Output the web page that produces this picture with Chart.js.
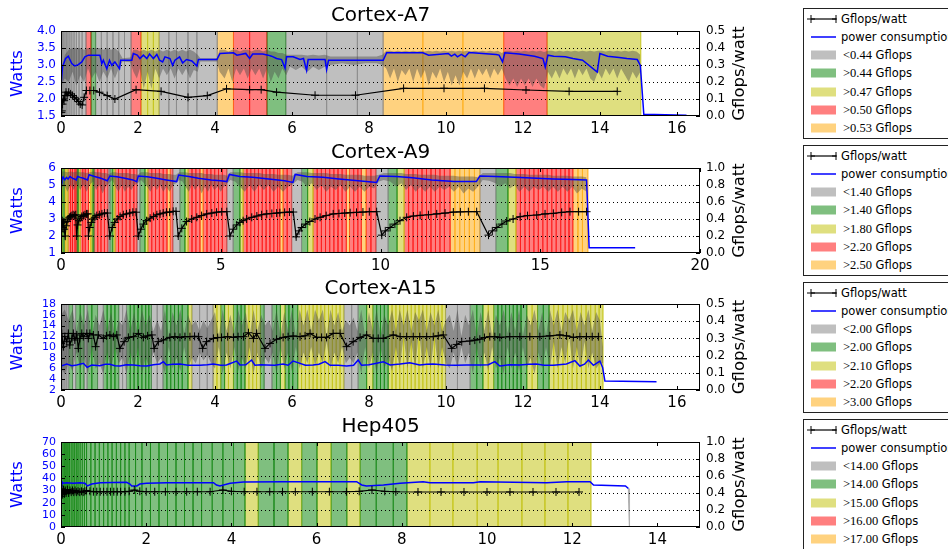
<!DOCTYPE html>
<html><head><meta charset="utf-8">
<script src="https://cdn.jsdelivr.net/npm/chart.js@4.4.0/dist/chart.umd.min.js"></script>
<style>
html,body{margin:0;padding:0;width:948px;height:549px;overflow:hidden;background:#fff;font-family:"DejaVu Sans",sans-serif;position:relative;}
canvas{position:absolute;left:0;}
.leg{position:absolute;left:803px;width:170px;height:131px;border:1px solid #222;background:#fff;box-sizing:border-box;}
.row{position:absolute;left:0;height:18px;white-space:nowrap;font-size:11.5px;line-height:18px;color:#000;}
.row svg{position:absolute;left:3px;top:0;}
.row span.t{position:absolute;left:37px;top:0;}
.m{font-family:"Liberation Serif","DejaVu Serif",serif;font-size:12.5px;}
</style>
</head><body>
<script>
// ---------------- DATA ----------------
const catColors = ['rgba(128,128,128,0.5)','rgba(0,128,0,0.5)','rgba(191,191,0,0.5)','rgba(255,0,0,0.5)','rgba(255,165,0,0.5)'];

// Cortex-A7
const a7Title = 'Cortex-A7';
const a7Thresholds = ['<0.44','>0.44','>0.47','>0.50','>0.53'];
const a7Bands = [[0,0],[0.03,0],[0.06,0],[0.1,0],[0.14,0],[0.18,0],[0.23,0],[0.28,0],[0.34,0],[0.4,0],[0.47,0],[0.55,0],
 [0.65,3],[0.78,1],[0.9,0],[1.05,0],[1.2,0],[1.35,0],[1.5,0],[1.65,0],[1.82,3],[2.08,2],[2.25,2],[2.4,2],
 [2.55,0],[2.8,0],[3.0,0],[3.3,0],[3.53,0],[4.06,4],[4.48,3],[4.9,3],[5.35,1],[5.84,0],[6.9,0],[7.7,0],
 [8.37,4],[9.4,4],[10.44,4],[11.5,3],[12.63,2]];
const a7BandsEnd = 15.06;
const a7Power = [[0,2.4],[0.04,2.95],[0.12,3.19],[0.19,3.26],[0.28,3.04],[0.36,2.97],[0.45,3.01],[0.54,3.09],[0.62,3.24],[0.71,3.29],
 [1.01,3.29],[1.06,3.04],[1.1,3.14],[1.19,2.89],[1.26,3.14],[1.32,2.99],[1.4,3.09],[1.52,2.89],[1.55,3.14],[1.84,3.14],[1.88,3.34],
 [1.98,3.29],[2.05,3.19],[2.14,3.29],[2.23,3.19],[2.3,3.32],[2.4,3.19],[2.49,3.31],[2.56,3.14],[2.64,3.09],[2.7,3.24],[2.83,3.19],
 [2.9,2.99],[2.96,3.14],[3.08,3.24],[3.16,3.06],[3.26,3.16],[3.4,3.12],[3.53,2.97],[3.57,3.16],[4.05,3.16],[4.13,3.34],[4.48,3.36],
 [4.57,3.29],[4.8,3.34],[4.9,3.19],[4.98,3.32],[5.24,3.32],[5.38,3.29],[5.47,3.26],[5.6,3.19],[5.73,3.16],[5.82,2.91],[5.86,3.24],
 [6.03,3.24],[6.21,3.16],[6.3,3.19],[6.38,2.84],[6.42,3.16],[6.86,3.16],[6.9,2.86],[6.95,3.14],[8.37,3.14],[8.46,3.36],[9.4,3.36],
 [9.55,3.29],[10.06,3.34],[10.14,3.26],[10.23,3.32],[10.3,3.24],[10.4,3.31],[10.5,3.24],[10.6,3.37],[10.95,3.34],[11.3,3.31],
 [11.38,3.29],[11.47,3.09],[11.53,3.36],[11.9,3.32],[12.3,3.26],[12.52,3.19],[12.58,2.94],[12.65,3.29],[12.8,3.26],[13.1,3.24],
 [13.3,3.19],[13.55,3.14],[13.93,2.79],[14.0,3.34],[14.2,3.26],[14.5,3.22],[14.7,3.19],[14.97,3.16],[15.05,2.99],[15.14,1.55],[16.25,1.52]];
const a7Env = [[0,2.4,2.3],[0.04,3.0,2.5],[0.1,3.3,2.6],[0.2,3.45,2.5],[0.3,3.5,2.8],[0.4,3.5,2.4],[0.5,3.5,2.7],[0.6,3.45,2.5],[0.7,3.5,2.9],
 [0.8,3.5,2.6],[0.9,3.5,2.8],[1.0,3.5,2.5],[1.1,3.45,2.8],[1.2,3.5,2.6],[1.3,3.45,2.9],[1.4,3.5,2.6],[1.5,3.4,2.9],[1.6,3.2,3.1],[1.8,3.22,3.08],
 [1.88,3.45,2.8],[1.97,3.45,2.6],[2.05,3.4,2.9],[2.15,3.45,2.3],[2.25,3.4,2.8],[2.35,3.45,2.3],[2.45,3.4,2.9],[2.55,3.45,2.6],[2.65,3.4,2.9],
 [2.75,3.45,2.7],[2.85,3.4,2.9],[2.95,3.45,2.6],[3.05,3.4,2.9],[3.15,3.45,2.7],[3.25,3.4,2.9],[3.35,3.45,2.6],[3.45,3.4,2.85],[3.55,3.3,2.8],
 [3.62,3.2,3.1],[4.05,3.2,3.1],[4.12,3.45,2.8],[4.25,3.45,2.6],[4.35,3.4,2.9],[4.45,3.45,2.5],[4.55,3.45,2.9],[4.65,3.4,2.7],[4.75,3.45,2.9],
 [4.85,3.45,2.6],[4.95,3.4,2.9],[5.05,3.45,2.7],[5.15,3.45,2.9],[5.25,3.4,2.6],[5.35,3.45,2.9],[5.45,3.4,2.5],[5.55,3.4,2.8],[5.65,3.35,2.6],
 [5.75,3.35,2.9],[5.85,3.3,2.7],[5.95,3.3,2.95],[6.1,3.3,2.85],[6.25,3.3,2.95],[6.4,3.28,2.8],[6.55,3.3,2.95],[6.7,3.28,2.85],[6.85,3.3,2.95],
 [7.0,3.25,3.0],[7.3,3.25,3.05],[7.6,3.25,3.0],[7.9,3.25,3.05],[8.2,3.25,3.05],[8.35,3.3,3.0],[8.45,3.42,2.9],[8.55,3.42,2.6],[8.65,3.4,2.9],
 [8.75,3.42,2.5],[8.85,3.4,2.85],[8.95,3.42,2.7],[9.05,3.4,2.9],[9.15,3.42,2.5],[9.25,3.4,2.9],[9.35,3.42,2.6],[9.45,3.4,2.85],[9.55,3.42,2.4],
 [9.65,3.4,2.8],[9.75,3.42,2.6],[9.85,3.4,2.9],[9.95,3.42,2.5],[10.05,3.4,2.8],[10.15,3.42,2.4],[10.25,3.4,2.7],[10.35,3.42,2.4],[10.45,3.4,2.8],
 [10.55,3.42,2.6],[10.65,3.4,2.9],[10.75,3.42,2.6],[10.85,3.4,2.9],[10.95,3.42,2.7],[11.05,3.4,2.9],[11.15,3.42,2.6],[11.25,3.4,2.9],
 [11.35,3.42,2.7],[11.45,3.35,2.9],[11.55,3.42,2.6],[11.65,3.42,2.4],[11.75,3.4,2.6],[11.85,3.42,2.35],[11.95,3.4,2.6],[12.05,3.42,2.4],
 [12.15,3.4,2.6],[12.25,3.42,2.35],[12.35,3.4,2.6],[12.45,3.42,2.4],[12.55,3.38,2.3],[12.65,3.42,2.8],[12.75,3.42,2.6],[12.85,3.4,2.85],
 [12.95,3.42,2.6],[13.05,3.4,2.9],[13.15,3.42,2.7],[13.25,3.4,2.9],[13.35,3.42,2.6],[13.45,3.4,2.9],[13.55,3.42,2.7],[13.65,3.4,2.9],
 [13.75,3.42,2.6],[13.85,3.4,2.5],[13.95,3.42,2.8],[14.05,3.42,2.6],[14.15,3.4,2.9],[14.25,3.42,2.7],[14.35,3.4,2.9],[14.45,3.42,2.6],
 [14.55,3.4,2.9],[14.65,3.42,2.7],[14.75,3.4,2.5],[14.85,3.42,2.8],[14.95,3.4,2.6],[15.05,3.3,2.8]];
const a7Eff = [[0.01,0.02],[0.02,0.03],[0.04,0.07],[0.06,0.1],[0.08,0.09],[0.1,0.12],[0.13,0.14],[0.16,0.12],[0.2,0.14],[0.25,0.13],[0.3,0.12],
 [0.35,0.11],[0.4,0.1],[0.45,0.085],[0.5,0.07],[0.55,0.065],[0.6,0.11],[0.66,0.15],[0.75,0.15],[0.85,0.15],[1.0,0.14],[1.2,0.12],[1.4,0.1],
 [1.95,0.155],[2.6,0.145],[3.3,0.11],[3.8,0.12],[4.3,0.16],[4.9,0.155],[5.2,0.155],[5.6,0.14],[6.6,0.122],[7.65,0.122],[8.9,0.163],
 [9.95,0.163],[11.0,0.163],[12.08,0.153],[13.2,0.145],[14.45,0.145]];

// Cortex-A9
const a9Title = 'Cortex-A9';
const a9Thresholds = ['<1.40','>1.40','>1.80','>2.20','>2.50'];
const a9Bands = [[0,2],[0.05,1],[0.1,4],[0.15,2],[0.22,3],[0.3,3],[0.36,3],[0.44,3],[0.5,1],[0.54,2],[0.6,3],[0.68,3],[0.76,3],[0.86,4],
 [0.93,2],[0.98,1],[1.03,3],[1.15,3],[1.25,3],[1.36,3],[1.47,0],[1.53,1],[1.62,2],[1.69,3],[1.8,3],[1.92,3],[2.04,3],[2.16,3],[2.28,3],
 [2.38,0],[2.47,1],[2.63,2],[2.72,3],[2.84,3],[2.96,3],[3.08,3],[3.2,3],[3.32,4],[3.42,3],[3.5,0],[3.72,1],[3.88,2],[3.98,3],[4.1,3],
 [4.22,3],[4.35,4],[4.45,3],[4.57,3],[4.69,3],[4.81,3],[4.93,3],[5.05,3],[5.19,0],[5.39,1],[5.6,2],[5.7,3],[5.82,3],[5.94,3],[6.06,3],
 [6.18,3],[6.3,3],[6.42,3],[6.54,3],[6.66,3],[6.78,3],[6.85,4],[6.95,3],[7.08,3],[7.22,0],[7.53,1],[7.72,2],[7.89,3],[8.02,3],[8.15,3],
 [8.28,3],[8.41,3],[8.54,3],[8.67,3],[8.8,3],[8.93,4],[9.03,3],[9.16,3],[9.29,3],[9.4,4],[9.55,3],[9.7,3],[9.86,0],[10.24,1],[10.52,2],
 [10.74,3],[10.88,3],[11.02,3],[11.16,3],[11.3,3],[11.44,3],[11.58,3],[11.72,3],[11.86,3],[12.0,3],[12.18,4],[12.33,4],[12.48,4],
 [12.63,4],[12.78,4],[12.94,4],[13.11,0],[13.61,1],[13.99,2],[14.24,3],[14.38,3],[14.52,3],[14.66,3],[14.8,3],[14.94,3],[15.08,3],
 [15.22,3],[15.36,3],[15.5,3],[15.64,3],[15.78,3],[15.9,3],[16.02,4],[16.18,4],[16.32,4]];
const a9BandsEnd = 16.49;
const a9Power = [[0,5.5],[0.03,5.3],[0.07,5.45],[0.12,5.3],[0.17,5.45],[0.22,5.35],[0.28,5.5],[0.35,5.4],[0.42,5.35],[0.48,5.3],[0.52,5.5],
 [0.6,5.45],[0.7,5.4],[0.83,5.3],[0.88,5.6],[1.05,5.5],[1.25,5.4],[1.45,5.25],[1.53,5.53],[1.75,5.48],[2.0,5.4],[2.25,5.3],[2.37,5.2],
 [2.42,5.53],[2.7,5.48],[3.0,5.4],[3.3,5.3],[3.62,5.2],[3.68,5.59],[4.0,5.5],[4.3,5.4],[4.7,5.3],[5.0,5.25],[5.19,5.2],[5.27,5.62],
 [5.6,5.5],[6.0,5.45],[6.5,5.35],[7.0,5.25],[7.26,5.15],[7.33,5.62],[7.7,5.5],[8.2,5.45],[8.7,5.35],[9.3,5.25],[9.88,5.15],[9.98,5.53],
 [10.5,5.5],[11.0,5.42],[11.6,5.3],[12.3,5.2],[13.0,5.2],[13.11,5.53],[13.6,5.5],[14.2,5.45],[14.9,5.39],[15.4,5.35],[16.0,5.32],
 [16.45,5.29],[16.53,1.31],[17.97,1.31]];
const a9Env = [[0,5.8,4.8],[0.1,5.8,5.0],[0.2,5.75,4.6],[0.3,5.8,5.0],[0.4,5.75,4.7],[0.5,5.8,5.1],[0.6,5.75,4.7],[0.7,5.75,5.0],[0.8,5.7,4.6],
 [0.9,5.75,5.0],[1.0,5.8,5.2],[1.1,5.75,4.7],[1.2,5.75,5.0],[1.3,5.7,4.5],[1.4,5.7,4.9],[1.5,5.65,5.1],[1.6,5.75,5.3],[1.7,5.75,4.9],
 [1.8,5.7,4.6],[1.9,5.7,5.0],[2.0,5.7,4.6],[2.1,5.7,4.9],[2.2,5.65,4.7],[2.3,5.65,5.0],[2.4,5.6,5.1],[2.5,5.75,5.3],[2.6,5.75,5.1],
 [2.7,5.75,4.9],[2.8,5.7,4.6],[2.9,5.7,5.0],[3.0,5.7,4.7],[3.1,5.7,5.0],[3.2,5.65,4.6],[3.3,5.65,4.9],[3.4,5.65,4.6],[3.5,5.6,5.0],
 [3.6,5.6,5.1],[3.7,5.75,5.3],[3.8,5.75,5.2],[3.9,5.75,4.9],[4.0,5.7,4.6],[4.1,5.7,5.0],[4.2,5.7,4.7],[4.3,5.7,5.0],[4.4,5.7,4.5],
 [4.5,5.65,4.9],[4.6,5.65,4.6],[4.7,5.65,5.0],[4.8,5.6,4.7],[4.9,5.6,4.9],[5.0,5.6,4.6],[5.1,5.6,4.9],[5.2,5.55,5.1],[5.3,5.75,5.3],
 [5.45,5.75,5.2],[5.6,5.75,4.9],[5.75,5.7,4.6],[5.9,5.7,5.0],[6.05,5.7,4.6],[6.2,5.7,5.0],[6.35,5.65,4.7],[6.5,5.65,5.0],[6.65,5.65,4.6],
 [6.8,5.6,4.9],[6.95,5.6,4.6],[7.1,5.6,4.9],[7.25,5.55,5.05],[7.4,5.75,5.3],[7.55,5.75,5.2],[7.7,5.75,4.9],[7.85,5.7,5.1],[8.0,5.7,4.7],
 [8.15,5.7,5.0],[8.3,5.7,4.6],[8.45,5.65,4.9],[8.6,5.65,4.7],[8.75,5.65,5.0],[8.9,5.6,4.6],[9.05,5.6,4.9],[9.2,5.6,4.6],[9.35,5.6,4.9],
 [9.5,5.55,4.6],[9.65,5.55,4.9],[9.8,5.55,4.8],[9.95,5.6,5.2],[10.1,5.7,5.3],[10.3,5.7,5.2],[10.5,5.7,4.9],[10.65,5.7,5.1],[10.8,5.65,4.7],
 [10.95,5.65,5.0],[11.1,5.65,4.6],[11.25,5.6,4.9],[11.4,5.6,4.6],[11.55,5.6,4.9],[11.7,5.6,4.6],[11.85,5.55,4.9],[12.0,5.55,4.7],
 [12.15,5.55,4.9],[12.3,5.55,4.6],[12.45,5.5,4.9],[12.6,5.5,4.5],[12.75,5.5,4.8],[12.9,5.5,4.6],[13.05,5.45,4.9],[13.2,5.7,5.3],
 [13.4,5.7,5.25],[13.6,5.7,5.1],[13.75,5.7,4.9],[13.9,5.7,5.1],[14.05,5.7,4.8],[14.2,5.65,5.0],[14.35,5.65,4.6],[14.5,5.65,4.9],
 [14.65,5.6,4.6],[14.8,5.6,4.9],[14.95,5.6,4.7],[15.1,5.6,4.9],[15.25,5.6,4.6],[15.4,5.55,4.9],[15.55,5.55,4.6],[15.7,5.55,4.9],
 [15.85,5.55,4.6],[16.0,5.5,4.9],[16.15,5.5,4.5],[16.3,5.5,4.8],[16.45,5.45,4.6]];
const a9Eff = [[0.0,0.35],[0.02,0.25],[0.04,0.38],[0.06,0.3],[0.08,0.36],[0.1,0.28],[0.13,0.2],[0.16,0.32],[0.19,0.37],[0.22,0.4],[0.26,0.42],
 [0.3,0.43],[0.34,0.44],[0.38,0.45],[0.42,0.44],[0.46,0.45],[0.49,0.2],[0.52,0.33],[0.56,0.38],[0.6,0.41],[0.65,0.43],[0.7,0.44],
 [0.75,0.45],[0.8,0.46],[0.84,0.46],[0.86,0.2],[0.9,0.3],[0.95,0.36],[1.0,0.4],[1.06,0.42],[1.12,0.44],[1.2,0.45],[1.28,0.46],[1.36,0.47],
 [1.45,0.47],[1.53,0.2],[1.6,0.3],[1.68,0.36],[1.76,0.4],[1.85,0.43],[1.95,0.45],[2.05,0.46],[2.15,0.47],[2.25,0.48],[2.35,0.48],
 [2.42,0.2],[2.5,0.28],[2.58,0.34],[2.68,0.38],[2.79,0.41],[2.9,0.43],[3.0,0.45],[3.1,0.46],[3.2,0.47],[3.3,0.48],[3.4,0.48],[3.51,0.49],
 [3.6,0.49],[3.67,0.2],[3.78,0.29],[3.93,0.37],[4.09,0.4],[4.25,0.42],[4.4,0.44],[4.56,0.46],[4.72,0.47],[4.87,0.48],[5.03,0.485],
 [5.19,0.486],[5.29,0.2],[5.39,0.28],[5.5,0.33],[5.6,0.36],[5.7,0.38],[5.81,0.4],[5.97,0.42],[6.13,0.435],[6.28,0.45],[6.44,0.46],
 [6.6,0.465],[6.75,0.47],[6.85,0.474],[7.0,0.478],[7.15,0.482],[7.27,0.482],[7.36,0.19],[7.45,0.26],[7.53,0.3],[7.66,0.34],[7.79,0.37],
 [7.95,0.4],[8.11,0.42],[8.3,0.44],[8.52,0.46],[8.7,0.465],[8.88,0.47],[9.05,0.474],[9.25,0.478],[9.45,0.482],[9.65,0.486],[9.88,0.486],
 [10.04,0.21],[10.15,0.26],[10.3,0.3],[10.45,0.34],[10.61,0.38],[10.82,0.42],[11.03,0.435],[11.24,0.443],[11.5,0.45],[11.76,0.46],
 [12.02,0.47],[12.28,0.482],[12.5,0.484],[12.75,0.486],[13.01,0.486],[13.38,0.21],[13.5,0.26],[13.64,0.3],[13.8,0.34],[13.95,0.376],
 [14.15,0.4],[14.37,0.427],[14.6,0.44],[14.89,0.447],[15.15,0.46],[15.41,0.467],[15.67,0.478],[15.93,0.486],[16.2,0.486],[16.45,0.486]];

// Cortex-A15
const a15Title = 'Cortex-A15';
const a15Thresholds = ['<2.00','>2.00','>2.10','>2.20','>3.00'];
const a15Bands = [[0,0],[0.05,0],[0.1,0],[0.15,0],[0.2,1],[0.3,0],[0.38,1],[0.5,1],[0.6,0],[0.68,1],[0.8,1],[0.95,0],[1.1,1],[1.2,1],
 [1.3,1],[1.4,1],[1.5,0],[1.6,0],[1.7,1],[1.8,1],[1.9,1],[2.0,1],[2.1,1],[2.2,1],[2.28,1],[2.35,0],[2.5,0],[2.65,1],[2.75,1],[2.85,1],
 [2.95,1],[3.05,1],[3.15,1],[3.3,2],[3.4,0],[3.6,0],[3.8,0],[3.95,2],[4.05,2],[4.15,1],[4.25,2],[4.35,2],[4.48,1],[4.58,1],[4.68,1],
 [4.78,2],[4.88,2],[4.98,2],[5.08,2],[5.18,1],[5.28,0],[5.48,1],[5.6,1],[5.7,2],[5.82,1],[5.92,1],[6.02,1],[6.15,2],[6.25,2],[6.35,2],
 [6.45,2],[6.55,2],[6.65,2],[6.75,2],[6.85,2],[6.95,2],[7.05,2],[7.15,2],[7.25,2],[7.35,0],[7.55,0],[7.72,1],[7.94,2],[8.1,1],[8.2,1],
 [8.3,1],[8.4,1],[8.5,2],[8.6,2],[8.7,2],[8.8,2],[8.9,2],[9.0,2],[9.1,2],[9.2,2],[9.3,2],[9.4,2],[9.5,2],[9.6,2],[9.7,2],[9.8,2],[9.9,2],
 [9.99,0],[10.3,0],[10.63,1],[10.8,1],[10.96,2],[11.1,2],[11.24,1],[11.35,1],[11.45,1],[11.55,1],[11.65,1],[11.75,1],[11.85,1],[11.95,1],
 [12.1,2],[12.24,2],[12.38,1],[12.53,1],[12.68,2],[12.8,2],[12.92,2],[13.04,2],[13.16,2],[13.28,2],[13.4,2],[13.52,2],[13.64,2],[13.76,2],
 [13.88,2],[13.98,2]];
const a15BandsEnd = 14.08;
const a15Power = [[0,6.46],[0.15,6.84],[0.28,6.5],[0.41,6.65],[0.58,6.96],[0.68,6.21],[0.8,6.65],[1.01,6.53],[1.15,6.8],[1.27,6.77],[1.4,6.5],
 [1.53,6.46],[1.7,6.7],[1.88,6.65],[2.05,6.5],[2.23,6.46],[2.4,6.7],[2.57,6.84],[2.66,7.27],[2.74,6.65],[2.9,6.8],[3.09,6.84],[3.3,6.6],
 [3.61,6.59],[3.8,6.7],[3.96,6.84],[4.15,6.6],[4.3,6.65],[4.56,7.39],[4.65,6.65],[4.8,6.7],[4.95,7.58],[5.04,6.59],[5.2,6.7],[5.34,6.65],
 [5.55,6.6],[5.77,6.84],[5.9,6.6],[6.03,7.39],[6.21,6.96],[6.35,6.6],[6.55,6.65],[6.7,6.8],[6.86,7.27],[6.99,6.59],[7.2,6.6],[7.42,6.46],
 [7.6,6.6],[7.72,7.58],[7.81,6.59],[8.0,6.7],[8.2,6.96],[8.37,7.27],[8.55,6.65],[8.81,6.84],[9.06,7.08],[9.32,6.65],[9.5,6.8],[9.67,6.84],
 [9.97,6.65],[10.25,6.6],[10.54,6.65],[10.88,6.65],[11.1,6.7],[11.27,7.27],[11.4,6.46],[11.65,6.7],[11.92,6.65],[12.15,6.8],[12.35,6.84],
 [12.55,6.6],[12.79,6.59],[13.0,6.75],[13.13,6.84],[13.35,7.46],[13.48,6.46],[13.6,6.8],[13.7,7.58],[13.83,6.59],[14.0,7.39],[14.07,6.21],
 [14.13,3.67],[15.47,3.55]];
const a15Env = [[0,16,6],[0.1,17,5],[0.2,15,7],[0.3,17,5.5],[0.4,13,9],[0.5,16.5,6],[0.6,14,8],[0.7,17,5],[0.8,12,10],[0.9,16,6],[1.0,14,7],
 [1.1,17,5],[1.2,13,9],[1.3,16.5,5.5],[1.4,12,10],[1.5,15,7],[1.6,14,8],[1.7,17,5],[1.8,13,9],[1.9,16.5,6],[2.0,12,10],[2.1,17,5],
 [2.2,14,8],[2.3,16,6],[2.4,13,9],[2.5,15,7],[2.6,13,8],[2.7,17,5],[2.8,12,10],[2.9,16.5,6],[3.0,14,8],[3.1,17,5.5],[3.2,12.5,10],
 [3.3,16,6],[3.4,14,8],[3.5,15,7],[3.6,13,9],[3.7,15,7.5],[3.8,13.5,8.5],[3.9,15,7],[4.0,16.5,6],[4.1,12,10],[4.2,17,5],[4.3,13,9],
 [4.4,16,6],[4.5,12.5,10],[4.6,17,5.5],[4.7,14,8],[4.8,16.5,6],[4.9,12,10],[5.0,17,5],[5.1,13,9],[5.2,16,6],[5.3,14,8],[5.4,15,7],
 [5.5,13,9],[5.6,17,5],[5.7,12,10],[5.8,16.5,6],[5.9,13,9],[6.0,17,5.5],[6.1,12,10],[6.2,17,6],[6.3,14,9],[6.4,17,7],[6.5,13,10],
 [6.6,17,6.5],[6.7,15,9],[6.8,17,7],[6.9,12,11],[7.0,17,6],[7.1,14,9],[7.2,16.5,7],[7.3,13,10],[7.4,15,7],[7.5,14,8],[7.6,15.5,7],
 [7.7,13,9],[7.8,17,5],[7.9,12,10],[8.0,16.5,6],[8.1,13,9],[8.2,17,5],[8.3,12,10],[8.4,16,6],[8.5,14,8],[8.6,17,5.5],[8.7,13,10],
 [8.8,17,6],[8.9,14,12],[9.0,17,6],[9.1,13,11],[9.2,16.5,6],[9.3,15,13],[9.4,17,6],[9.5,13,10],[9.6,16.5,6],[9.7,14,12],[9.8,17,6],
 [9.9,13,10],[10.0,15,7],[10.1,16,6],[10.2,13,9],[10.3,17,6],[10.4,12,10],[10.5,16,7],[10.6,14,9],[10.7,17,5],[10.8,12,10],[10.9,16.5,6],
 [11.0,13,9],[11.1,17,5.5],[11.2,12,10],[11.3,16,6],[11.4,14,8],[11.5,17,5],[11.6,12.5,10],[11.7,16.5,6],[11.8,13,9],[11.9,17,5.5],
 [12.0,12,10],[12.1,16,6],[12.2,14,8],[12.3,17,5],[12.4,13,9],[12.5,16.5,6],[12.6,12,10],[12.7,17,6],[12.8,14,11],[12.9,17,6],[13.0,13,10],
 [13.1,16.5,7],[13.2,15,12],[13.3,17,6],[13.4,13,10],[13.5,16.5,6],[13.6,14,11],[13.7,17,6],[13.8,13,9],[13.9,16.5,6],[14.0,15,7],[14.08,10,7]];
const a15Eff = [[0.0,0.271],[0.02,0.329],[0.06,0.252],[0.1,0.31],[0.15,0.281],[0.19,0.329],[0.23,0.262],[0.28,0.3],[0.32,0.329],[0.36,0.291],
 [0.41,0.32],[0.45,0.242],[0.49,0.3],[0.54,0.329],[0.58,0.31],[0.67,0.329],[0.71,0.3],[0.75,0.329],[0.84,0.32],[0.9,0.252],[0.97,0.32],
 [1.1,0.3],[1.18,0.315],[1.27,0.32],[1.36,0.31],[1.45,0.32],[1.53,0.242],[1.64,0.281],[1.75,0.306],[1.88,0.31],[2.01,0.329],[2.14,0.306],
 [2.25,0.315],[2.36,0.32],[2.42,0.242],[2.53,0.281],[2.66,0.291],[2.83,0.306],[2.96,0.31],[3.09,0.306],[3.22,0.31],[3.35,0.31],[3.47,0.312],
 [3.57,0.31],[3.68,0.242],[3.78,0.281],[3.96,0.3],[4.07,0.305],[4.17,0.306],[4.33,0.31],[4.48,0.306],[4.6,0.31],[4.74,0.31],[4.87,0.333],
 [5.0,0.3],[5.08,0.329],[5.3,0.242],[5.43,0.271],[5.6,0.295],[5.77,0.306],[5.9,0.31],[6.03,0.314],[6.21,0.31],[6.34,0.315],[6.47,0.329],
 [6.64,0.306],[6.77,0.306],[6.9,0.306],[7.07,0.329],[7.25,0.329],[7.42,0.252],[7.59,0.281],[7.77,0.306],[7.94,0.32],[8.11,0.3],[8.24,0.3],
 [8.37,0.3],[8.63,0.32],[8.81,0.31],[8.98,0.31],[9.15,0.31],[9.32,0.31],[9.5,0.31],[9.67,0.31],[9.8,0.315],[9.93,0.32],[10.15,0.242],
 [10.28,0.265],[10.41,0.281],[10.62,0.285],[10.75,0.29],[10.88,0.295],[11.0,0.305],[11.14,0.31],[11.27,0.31],[11.4,0.306],[11.66,0.31],
 [11.92,0.31],[12.18,0.31],[12.44,0.31],[12.7,0.315],[12.96,0.32],[13.13,0.315],[13.31,0.306],[13.48,0.31],[13.65,0.31],[13.8,0.31],[13.96,0.31]];

// Hep405
const hepTitle = 'Hep405';
const hepThresholds = ['<14.00','>14.00','>15.00','>16.00','>17.00'];
const hepBands = [[0,2],[0.02,1],[0.05,1],[0.08,1],[0.11,1],[0.14,1],[0.17,1],[0.2,1],[0.24,1],[0.28,1],[0.32,1],[0.36,1],[0.4,1],[0.45,1],
 [0.5,1],[0.55,1],[0.6,1],[0.7,1],[0.8,1],[0.9,1],[1.0,1],[1.1,1],[1.2,1],[1.3,1],[1.4,1],[1.5,1],[1.6,1],[1.75,1],[1.9,1],[2.1,1],[2.3,1],
 [2.5,1],[2.7,1],[2.9,1],[3.1,1],[3.3,1],[3.55,1],[3.8,1],[4.05,1],[4.32,2],[4.63,1],[5.0,1],[5.33,2],[5.65,1],[6.01,2],[6.34,1],[6.71,2],
 [7.02,1],[7.4,1],[7.8,1],[8.12,2],[8.66,2],[9.2,2],[9.77,2],[10.26,2],[10.82,2],[11.36,2],[11.9,2]];
const hepBandsEnd = 12.44;
const hepPower = [[0,33.2],[0.02,37.3],[0.05,36.0],[0.13,36.5],[0.29,36.0],[0.45,36.5],[0.56,36.0],[0.62,33.8],[0.72,35.4],[0.92,36.5],
 [1.54,36.8],[1.62,35.4],[1.66,33.8],[1.78,33.8],[1.85,35.4],[2.01,36.0],[2.48,36.5],[3.58,36.5],[3.65,34.6],[3.73,33.8],[3.97,36.0],
 [4.28,37.0],[5.22,37.3],[6.94,37.3],[7.06,34.6],[7.17,33.8],[7.57,34.6],[7.96,36.0],[8.5,37.3],[8.66,36.5],[9.68,36.5],[9.84,37.3],
 [11.4,36.5],[11.87,37.3],[12.42,37.3],[12.5,34.6],[13.25,33.8],[13.32,31.7]];
const hepEnv = [[13.3,31.7,31.7],[13.33,31.7,0.5],[13.36,31.7,0.5]];
const hepEff = [[0.0,0.36],[0.02,0.45],[0.04,0.38],[0.06,0.44],[0.08,0.39],[0.1,0.43],[0.12,0.4],[0.15,0.44],[0.18,0.4],[0.21,0.43],
 [0.24,0.41],[0.27,0.43],[0.3,0.41],[0.33,0.43],[0.36,0.41],[0.4,0.42],[0.44,0.41],[0.48,0.42],[0.52,0.41],[0.56,0.42],[0.6,0.43],
 [0.68,0.42],[0.76,0.415],[0.84,0.415],[0.92,0.415],[1.0,0.415],[1.08,0.415],[1.16,0.415],[1.24,0.415],[1.32,0.415],[1.4,0.415],
 [1.5,0.415],[1.6,0.42],[1.72,0.435],[1.85,0.42],[2.0,0.415],[2.2,0.415],[2.45,0.415],[2.7,0.415],[2.95,0.415],[3.2,0.415],[3.5,0.415],
 [3.8,0.435],[4.0,0.42],[4.3,0.415],[4.6,0.415],[4.9,0.415],[5.2,0.415],[5.5,0.415],[5.9,0.415],[6.3,0.415],[6.7,0.415],[7.0,0.42],
 [7.3,0.435],[7.6,0.42],[7.86,0.415],[8.38,0.412],[8.92,0.412],[9.46,0.412],[10.0,0.412],[10.54,0.412],[11.08,0.412],[11.62,0.412],[12.16,0.412]];

// ---------------- RENDERING ----------------
Chart.defaults.font.family = '"DejaVu Sans", sans-serif';
const RIGHT_TITLE = 'Gflops/watt';

const framePlugin = {
  id: 'frameTicks',
  beforeDatasetDraw(chart, args) {
    const ds = chart.data.datasets[args.index];
    if (!ds._grid) return;
    const {ctx, chartArea: a, scales} = chart;
    ctx.save();
    ctx.strokeStyle = '#000'; ctx.lineWidth = 1; ctx.setLineDash([1, 3]);
    scales.y1.ticks.forEach(t => {
      const py = Math.round(scales.y1.getPixelForValue(t.value)) + 0.5;
      if (py <= a.top + 2 || py >= a.bottom - 2) return;
      ctx.beginPath(); ctx.moveTo(a.left, py); ctx.lineTo(a.right, py); ctx.stroke();
    });
    ctx.restore();
  },
  afterDatasetsDraw(chart) {
    const {ctx, chartArea: a, scales} = chart;
    ctx.save();
    ctx.strokeStyle = '#000'; ctx.lineWidth = 1; ctx.setLineDash([]);
    const L = 4;
    ctx.beginPath();
    scales.x.ticks.forEach(t => {
      const px = Math.round(scales.x.getPixelForValue(t.value)) + 0.5;
      ctx.moveTo(px, a.bottom); ctx.lineTo(px, a.bottom - L);
      ctx.moveTo(px, a.top); ctx.lineTo(px, a.top + L);
    });
    scales.y.ticks.forEach(t => {
      const py = Math.round(scales.y.getPixelForValue(t.value)) + 0.5;
      ctx.moveTo(a.left, py); ctx.lineTo(a.left + L, py);
    });
    scales.y1.ticks.forEach(t => {
      const py = Math.round(scales.y1.getPixelForValue(t.value)) + 0.5;
      ctx.moveTo(a.right, py); ctx.lineTo(a.right - L, py);
    });
    ctx.stroke();
    ctx.strokeRect(Math.round(a.left) + 0.5, Math.round(a.top) + 0.5, Math.round(a.right - a.left) - 1, Math.round(a.bottom - a.top) - 1);
    // right-axis title, reading bottom-to-top like the left one
    ctx.fillStyle = '#000';
    ctx.font = '16.5px "DejaVu Sans", sans-serif';
    ctx.textAlign = 'center'; ctx.textBaseline = 'middle';
    ctx.translate(a.right + 40, (a.top + a.bottom) / 2);
    ctx.rotate(-Math.PI / 2);
    ctx.fillText(RIGHT_TITLE, 0, 0);
    ctx.restore();
  }
};

function bandSets(bands, end, ymin, ymax) {
  const sets = [];
  for (let c = 0; c < catColors.length; c++) {
    const pts = [];
    bands.forEach((b, i) => {
      if (b[1] !== c) return;
      const s = b[0], e = (i + 1 < bands.length) ? bands[i + 1][0] : end;
      pts.push({x: s, y: ymin}, {x: s, y: ymax}, {x: e, y: ymax}, {x: e, y: ymin}, {x: e, y: null});
    });
    if (!pts.length) continue;
    sets.push({data: pts, yAxisID: 'y', fill: 'start', backgroundColor: catColors[c], borderColor: catColors[c],
      borderWidth: 0.8, pointRadius: 0, tension: 0, spanGaps: false, order: 6});
  }
  return sets;
}

function makePanel(p) {
  const W = 761, H = 27 + (p.plotBottom - p.plotTop) + 22;
  const cv = document.createElement('canvas');
  cv.width = W; cv.height = H;
  cv.style.top = (p.plotTop - 27) + 'px';
  cv.style.width = W + 'px'; cv.style.height = H + 'px';
  document.body.appendChild(cv);
  const datasets = [
    {data: p.eff.map(v => ({x: v[0], y: v[1]})), yAxisID: 'y1', borderColor: '#000', borderWidth: 1.2,
      pointStyle: 'cross', pointRadius: 4, pointBorderColor: '#000', pointBorderWidth: 1, fill: false, tension: 0, order: 1},
    {data: p.power.map(v => ({x: v[0], y: v[1]})), yAxisID: 'y', borderColor: '#0000ff', borderWidth: 1.5,
      pointRadius: 0, fill: false, tension: 0, order: 2, _grid: true},
    {data: p.env.map(v => ({x: v[0], y: v[1]})), yAxisID: 'y', borderWidth: 0, borderColor: 'rgba(0,0,0,0)',
      backgroundColor: 'rgba(70,70,70,0.42)', pointRadius: 0, fill: '+1', tension: 0, order: 4},
    {data: p.env.map(v => ({x: v[0], y: v[2]})), yAxisID: 'y', borderWidth: 0, borderColor: 'rgba(0,0,0,0)',
      pointRadius: 0, fill: false, tension: 0, order: 4},
    ...bandSets(p.bands, p.bandsEnd, p.ymin, p.ymax)
  ];
  new Chart(cv, {
    type: 'line',
    data: {datasets},
    plugins: [framePlugin],
    options: {
      responsive: false, animation: false, events: [], devicePixelRatio: window.devicePixelRatio || 1,
      layout: {padding: 0},
      plugins: {
        legend: {display: false}, tooltip: {enabled: false},
        title: {display: true, text: p.title, color: '#000', font: {size: 20, weight: 'normal'}, padding: {top: 0, bottom: 3}}
      },
      scales: {
        x: {type: 'linear', min: 0, max: p.xmax,
          ticks: {stepSize: p.xstep, includeBounds: false, color: '#000', font: {size: 15}, padding: 4, maxRotation: 0, autoSkip: false,
            callback: v => String(v)},
          grid: {display: false, drawTicks: false}, border: {display: false},
          afterFit: s => { s.height = 22; }},
        y: {type: 'linear', position: 'left', min: p.ymin, max: p.ymax,
          ticks: {stepSize: p.ystep, color: '#0000ff', font: {size: p.yfont}, padding: 5, autoSkip: false,
            callback: v => Number(v).toFixed(p.ydec)},
          grid: {display: false, drawTicks: false}, border: {display: false},
          title: {display: true, text: 'Watts', color: '#0000ff', font: {size: 16.5}, padding: {top: 8, bottom: 0}},
          afterFit: s => { s.width = 61; }},
        y1: {type: 'linear', position: 'right', min: 0, max: p.y1max,
          ticks: {stepSize: p.y1step, color: '#000', font: {size: 12}, padding: 6, autoSkip: false,
            callback: v => Number(v).toFixed(1)},
          grid: {display: false, drawTicks: false}, border: {display: false},
          title: {display: false},
          afterFit: s => { s.width = 61; }}
      }
    }
  });
}

function makeLegend(top, thresholds) {
  const box = document.createElement('div');
  box.className = 'leg'; box.style.top = top + 'px';
  const rowTop = i => (0.5 + i * 18.3);
  const crossSvg = '<svg width="30" height="18"><line x1="4" y1="9" x2="29" y2="9" stroke="#000" stroke-width="1.2"/>' +
    '<line x1="4" y1="5" x2="4" y2="13" stroke="#000"/><line x1="0" y1="9" x2="8" y2="9" stroke="#000"/>' +
    '<line x1="29" y1="5" x2="29" y2="13" stroke="#000"/><line x1="25" y1="9" x2="30" y2="9" stroke="#000"/></svg>';
  const lineSvg = '<svg width="30" height="18"><line x1="4" y1="9" x2="29" y2="9" stroke="#0000ff" stroke-width="1.5"/></svg>';
  const rows = [[crossSvg, 'Gflops/watt'], [lineSvg, 'power consumption']];
  thresholds.forEach((t, i) => {
    const svg = '<svg width="30" height="18"><rect x="4" y="4.5" width="25" height="9" fill="' + catColors[i] + '"/></svg>';
    const txt = '<span class="m">' + t.replace('<', '&lt;').replace('>', '&gt;') + '</span> Gflops';
    rows.push([svg, txt]);
  });
  rows.forEach((r, i) => {
    const d = document.createElement('div');
    d.className = 'row'; d.style.top = rowTop(i) + 'px'; d.style.width = '170px';
    d.innerHTML = r[0] + '<span class="t"' + (i >= 2 ? ' style="left:39px"' : '') + '>' + r[1] + '</span>';
    box.appendChild(d);
  });
  document.body.appendChild(box);
}

makePanel({title: a7Title, plotTop: 31, plotBottom: 116, xmax: 16.6, xstep: 2, ymin: 1.5, ymax: 4.0, ystep: 0.5, ydec: 1, yfont: 12,
  y1max: 0.5, y1step: 0.1, bands: a7Bands, bandsEnd: a7BandsEnd, power: a7Power, env: a7Env, eff: a7Eff});
makePanel({title: a9Title, plotTop: 168, plotBottom: 253, xmax: 20, xstep: 5, ymin: 1, ymax: 6, ystep: 1, ydec: 0, yfont: 12,
  y1max: 1.0, y1step: 0.2, bands: a9Bands, bandsEnd: a9BandsEnd, power: a9Power, env: a9Env, eff: a9Eff});
makePanel({title: a15Title, plotTop: 304, plotBottom: 390, xmax: 16.6, xstep: 2, ymin: 2, ymax: 18, ystep: 2, ydec: 0, yfont: 11,
  y1max: 0.5, y1step: 0.1, bands: a15Bands, bandsEnd: a15BandsEnd, power: a15Power, env: a15Env, eff: a15Eff});
makePanel({title: hepTitle, plotTop: 442, plotBottom: 527, xmax: 15, xstep: 2, ymin: 0, ymax: 70, ystep: 10, ydec: 0, yfont: 11,
  y1max: 1.0, y1step: 0.2, bands: hepBands, bandsEnd: hepBandsEnd, power: hepPower, env: hepEnv, eff: hepEff});

makeLegend(8, a7Thresholds);
makeLegend(145, a9Thresholds);
makeLegend(282, a15Thresholds);
makeLegend(419, hepThresholds);
</script>
</body></html>
